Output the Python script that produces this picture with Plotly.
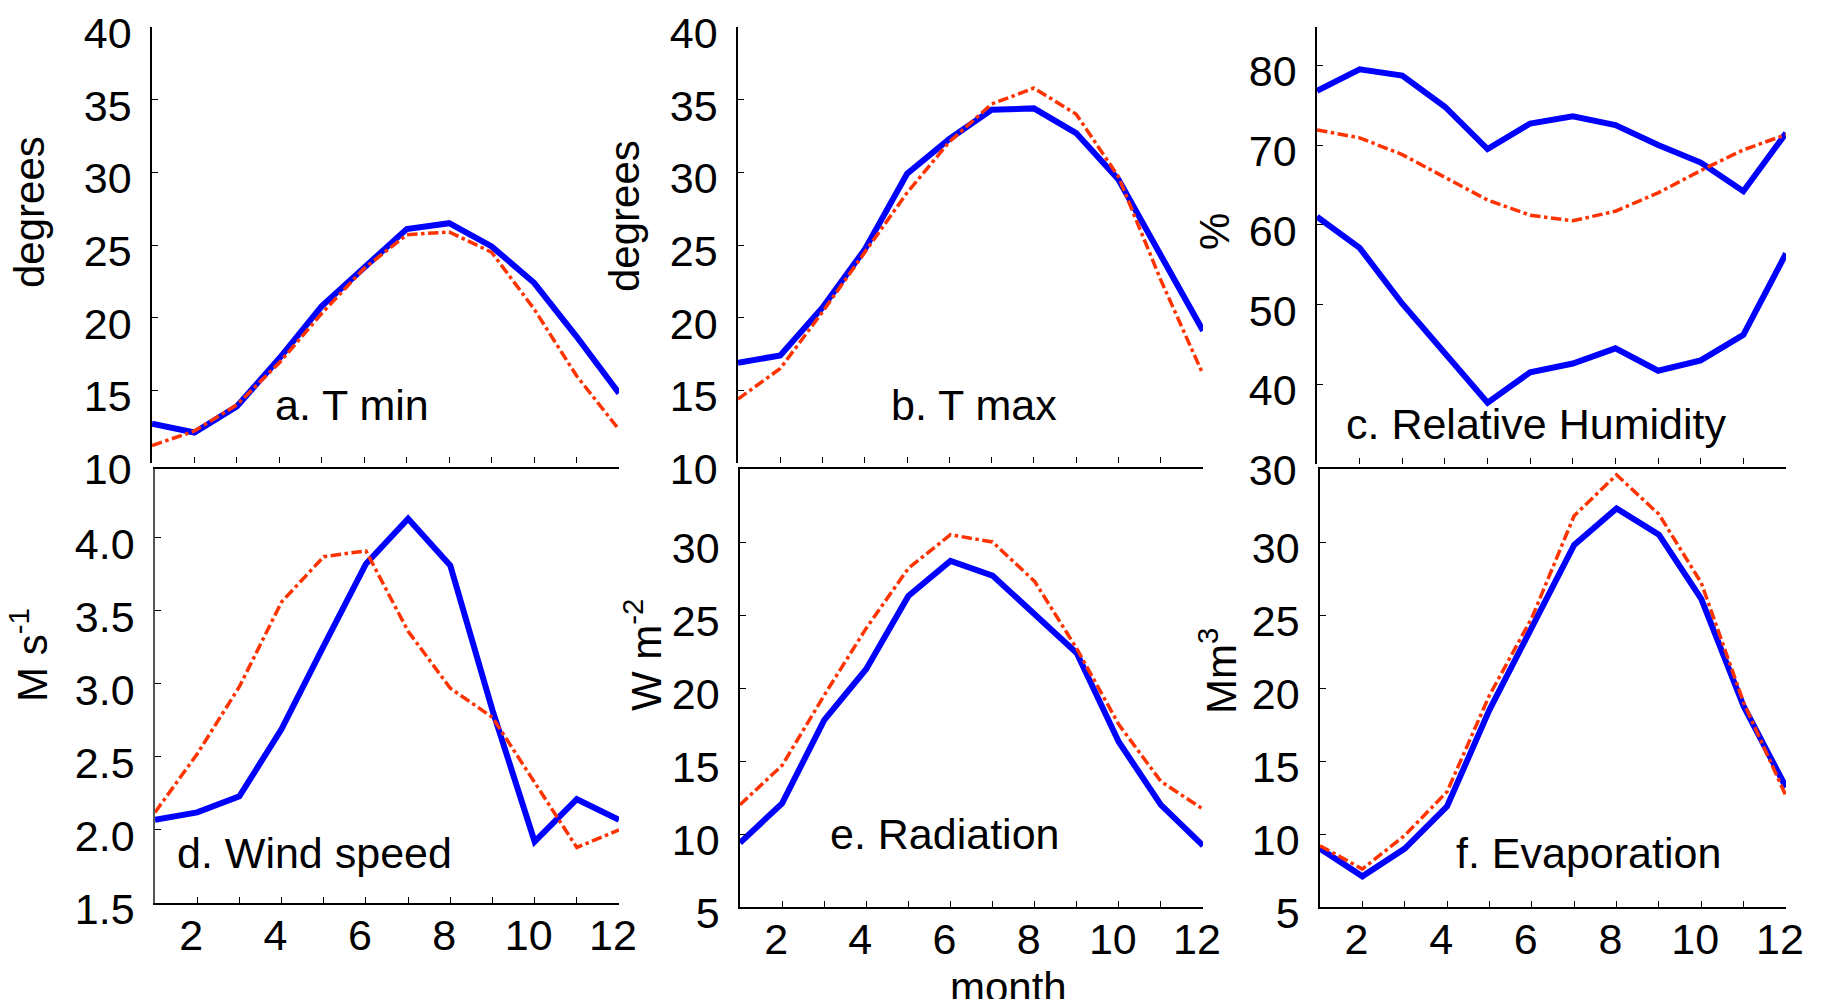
import plotly.graph_objects as go

W, H = 1822, 999

months = list(range(1, 13))

tmin_obs = [12.7, 12.1, 13.9, 17.2, 20.8, 23.5, 26.1, 26.5, 24.9, 22.4, 18.7, 14.8]
tmin_sim = [11.2, 12.2, 14.0, 16.9, 20.3, 23.4, 25.7, 25.9, 24.5, 20.6, 16.0, 12.3]

tmax_obs = [16.9, 17.4, 20.7, 24.7, 29.9, 32.3, 34.3, 34.4, 32.7, 29.5, 24.3, 19.1]
tmax_sim = [14.4, 16.5, 20.4, 24.5, 28.6, 32.1, 34.7, 35.8, 34.0, 29.7, 22.6, 16.1]

rh_max = [76.8, 79.5, 78.7, 74.8, 69.5, 72.7, 73.6, 72.5, 70.0, 67.8, 64.2, 71.5]
rh_min = [61.0, 57.1, 50.1, 43.9, 37.7, 41.5, 42.6, 44.5, 41.7, 43.0, 46.2, 56.4]
rh_sim = [71.9, 70.9, 68.8, 66.0, 63.1, 61.2, 60.5, 61.7, 64.0, 66.8, 69.4, 71.3]

wind_obs = [2.07, 2.12, 2.23, 2.69, 3.26, 3.82, 4.13, 3.81, 2.82, 1.92, 2.21, 2.07]
wind_sim = [2.12, 2.52, 2.98, 3.56, 3.87, 3.91, 3.36, 2.97, 2.77, 2.33, 1.88, 2.00]

rad_obs = [9.4, 12.1, 17.8, 21.3, 26.3, 28.7, 27.7, 25.0, 22.4, 16.3, 12.0, 9.2]
rad_sim = [12.0, 14.7, 19.5, 24.1, 28.2, 30.5, 30.0, 27.3, 22.7, 17.5, 13.6, 11.7]

evap_obs = [9.0, 7.1, 9.0, 11.9, 18.5, 24.2, 29.8, 32.3, 30.5, 26.1, 18.75, 13.2]
evap_sim = [9.2, 7.6, 9.9, 12.9, 19.5, 24.8, 31.8, 34.6, 31.9, 27.2, 19.0, 12.6]

x_label_vals = [2, 4, 6, 8, 10, 12]
x_label_text = ["2", "4", "6", "8", "10", "12"]

panel_titles = ["a. T min", "b. T max", "c. Relative Humidity",
                "d. Wind speed", "e. Radiation", "f. Evaporation"]
y_titles = ["degrees", "degrees", "%", "M s<sup>-1</sup>", "W m<sup>-2</sup>", "Mm<sup>3</sup>"]

yranges = [[10, 40], [10, 40], [30, 84.8], [1.5, 4.47], [5, 35], [5, 35]]
yticks = [
    [10, 15, 20, 25, 30, 35, 40],
    [10, 15, 20, 25, 30, 35, 40],
    [30, 40, 50, 60, 70, 80],
    [1.5, 2.0, 2.5, 3.0, 3.5, 4.0],
    [5, 10, 15, 20, 25, 30],
    [5, 10, 15, 20, 25, 30],
]

FONT = "Liberation Sans, Arial, sans-serif"
FS_TICK = 43
FS_LABEL = 43
FS_TITLE = 42
BLUE = "#0000FF"
RED = "#FF3300"

fig = go.Figure()

# panel px boxes: (x0, x1, ytop, ybottom)
boxes = [
    (152, 619, 27, 463),
    (738, 1203, 27, 463),
    (1317, 1786, 27, 464),
    (155, 619, 469, 903),
    (740, 1203, 469, 907),
    (1320, 1786, 469, 907),
]

series = [
    [(tmin_obs, "obs"), (tmin_sim, "sim")],
    [(tmax_obs, "obs"), (tmax_sim, "sim")],
    [(rh_max, "obs"), (rh_min, "obs"), (rh_sim, "sim")],
    [(wind_obs, "obs"), (wind_sim, "sim")],
    [(rad_obs, "obs"), (rad_sim, "sim")],
    [(evap_obs, "obs"), (evap_sim, "sim")],
]

for i in range(6):
    n = i + 1
    xa = "x" if n == 1 else f"x{n}"
    ya = "y" if n == 1 else f"y{n}"
    for vals, kind in series[i]:
        if kind == "obs":
            fig.add_trace(go.Scatter(x=months, y=vals, mode="lines", xaxis=xa, yaxis=ya,
                                     line=dict(color=BLUE, width=6), showlegend=False,
                                     cliponaxis=False))
    for vals, kind in series[i]:
        if kind == "sim":
            fig.add_trace(go.Scatter(x=months, y=vals, mode="lines", xaxis=xa, yaxis=ya,
                                     line=dict(color=RED, width=3.5, dash="dashdot"),
                                     showlegend=False, cliponaxis=False))

    x0, x1, yt, yb = boxes[i]
    bottom_row = i >= 3
    xkey = "xaxis" if n == 1 else f"xaxis{n}"
    ykey = "yaxis" if n == 1 else f"yaxis{n}"
    fig.layout[xkey] = dict(
        domain=[x0 / W, x1 / W], anchor=ya, range=[1, 12],
        tickmode="array", tickvals=x_label_vals if bottom_row else months,
        ticktext=x_label_text if bottom_row else None,
        showticklabels=bottom_row,
        ticks="inside", ticklen=6, tickwidth=1.2, tickcolor="black",
        minor=dict(ticks="inside", dtick=1, tick0=1, ticklen=6, tickwidth=1.2,
                   tickcolor="black", showgrid=False) if bottom_row else None,
        showline=bottom_row, linecolor="black", linewidth=1.5,
        mirror=bottom_row,
        showgrid=False, zeroline=False, automargin=False,
        tickfont=dict(family=FONT, size=FS_TICK, color="black"),
        ticklabelstandoff=-6, ticklabelshift=-6, ticklabeloverflow="allow",
    )
    fig.layout[ykey] = dict(
        domain=[1 - yb / H, 1 - yt / H], anchor=xa, range=yranges[i],
        tickmode="array", tickvals=yticks[i],
        ticktext=[f"{v:.1f}" if i == 3 else str(int(v)) for v in yticks[i]],
        ticks="inside", ticklen=6, tickwidth=1.2, tickcolor="black",
        showline=True, linecolor="#555555" if i == 3 else "black", linewidth=1.5,
        showgrid=False, zeroline=False, automargin=False,
        tickfont=dict(family=FONT, size=FS_TICK, color="black"),
        ticklabelstandoff=10, ticklabelshift=6, ticklabeloverflow="allow",
    )

label_pos = [(352, 405), (974, 405), (1536, 424), (314, 853), (945, 834), (1588, 853)]
ytitle_pos = [(29, 212), (624, 216), (1215, 232), (29, 655), (643, 655), (1218, 671)]

annotations = []
for i in range(6):
    lx, ly = label_pos[i]
    annotations.append(dict(text=panel_titles[i], x=lx / W, y=1 - ly / H, xref="paper", yref="paper",
                            showarrow=False, xanchor="center", yanchor="middle",
                            font=dict(family=FONT, size=FS_LABEL, color="black")))
    tx, ty = ytitle_pos[i]
    annotations.append(dict(text=y_titles[i], x=tx / W, y=1 - ty / H, xref="paper", yref="paper",
                            showarrow=False, xanchor="center", yanchor="middle", textangle=-90,
                            font=dict(family=FONT, size=FS_TITLE, color="black")))
annotations.append(dict(text="month", x=1008 / W, y=1 - 962 / H, xref="paper", yref="paper",
                        showarrow=False, xanchor="center", yanchor="top",
                        font=dict(family=FONT, size=FS_TITLE, color="black")))

fig.update_layout(
    width=W, height=H, autosize=False,
    margin=dict(l=0, r=0, t=0, b=0),
    paper_bgcolor="white", plot_bgcolor="white",
    annotations=annotations,
    font=dict(family=FONT, size=FS_TICK, color="black"),
)

fig.write_html("out.html", config={"displayModeBar": False},
               post_script="document.body.style.margin='0';document.body.style.overflow='hidden';")
